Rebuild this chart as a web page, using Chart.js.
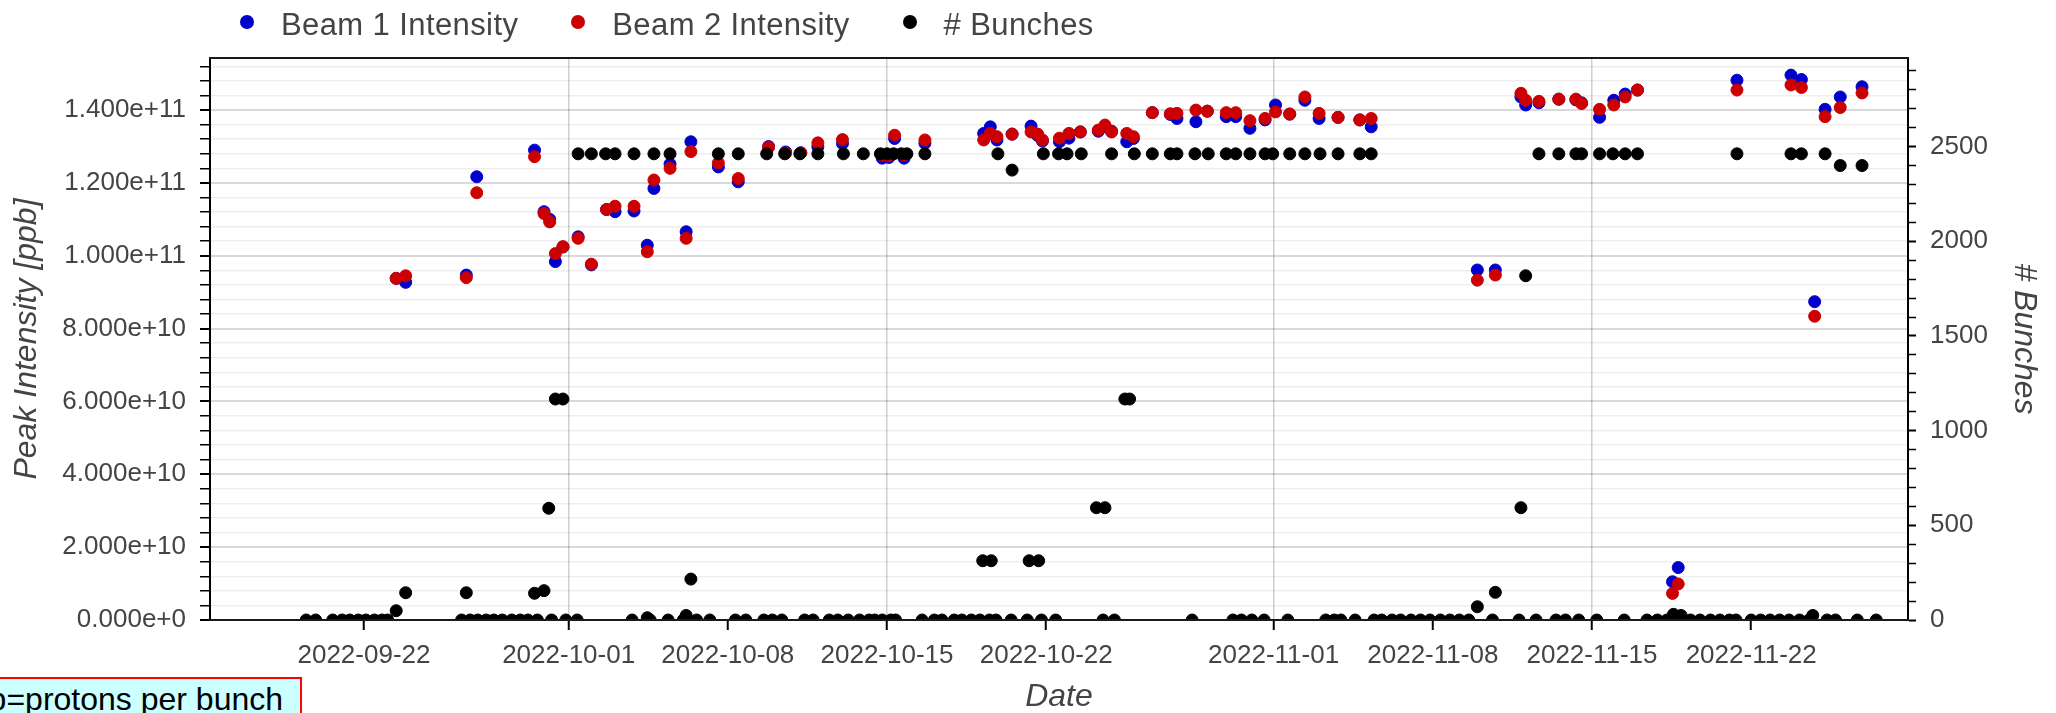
<!DOCTYPE html>
<html>
<head>
<meta charset="utf-8">
<title>Peak intensity and number of bunches</title>
<script src="https://cdn.jsdelivr.net/npm/chart.js@4.4.1/dist/chart.umd.min.js"></script>
<style>
  html, body { margin: 0; padding: 0; background: #fff; }
  body { width: 2056px; height: 713px; overflow: hidden; position: relative; font-family: "Liberation Sans", Arial, sans-serif; }
  #chart { position: absolute; left: 0; top: 0; }
  #legend { position: absolute; left: 240px; top: 10px; height: 30px; display: flex; align-items: center; font-size: 31px; line-height: 30px; letter-spacing: 0.4px; color: #444; }
  #legend .item { display: flex; align-items: center; margin-right: 53px; }
  #legend .dot { width: 14px; height: 14px; border-radius: 50%; margin-right: 27px; position: relative; top: -3px; }
  #note { position: absolute; left: -60px; top: 677px; padding: 2px 17px 12px 11px; background: #ccffff; border: 2px solid #ff0000; font-size: 32px; color: #000; white-space: nowrap; }
</style>
</head>
<body>
<canvas id="chart" width="2056" height="713"></canvas>
<div id="legend"></div>
<div id="note">ppb=protons per bunch</div>
<script>
// all dates are 2022, UTC
const year = 2022;
const xMin = '09-15 05:30';
const xMax = '11-28 21:30';
const xTickLabels = ['2022-09-22', '2022-10-01', '2022-10-08', '2022-10-15', '2022-10-22',
                     '2022-11-01', '2022-11-08', '2022-11-15', '2022-11-22'];
const gridDays = [1, 15];

const yTickLabels = ['0.000e+0', '2.000e+10', '4.000e+10', '6.000e+10', '8.000e+10',
                     '1.000e+11', '1.200e+11', '1.400e+11'];
const yMinorStep = 4e9;
const yMax = 1.543e11;

const y1TickLabels = ['0', '500', '1000', '1500', '2000', '2500'];
const y1MinorStep = 100;
const y1Max = 2968;

// peak intensity per fill [ppb]
const beamTimes = [
  '09-23 10:00', '09-23 20:00', '09-26 12:00', '09-26 23:00', '09-29 12:00', '09-29 22:00', '09-30 04:00', '09-30 10:00', '09-30 18:00', '10-01 10:00',
  '10-02 00:00', '10-02 16:00', '10-03 01:00', '10-03 21:00', '10-04 11:00', '10-04 18:00', '10-05 11:00', '10-06 04:00', '10-06 09:00', '10-07 14:00',
  '10-08 11:00', '10-09 19:00', '10-10 13:00', '10-11 05:00', '10-11 23:00', '10-13 01:00', '10-14 19:00', '10-15 02:00', '10-15 08:00', '10-15 18:00', '10-16 16:00',
  '10-19 06:00', '10-19 13:00', '10-19 20:00', '10-20 12:00', '10-21 08:00', '10-21 15:00', '10-21 20:00', '10-22 14:00', '10-23 00:00', '10-23 12:00',
  '10-24 07:00', '10-24 14:00', '10-24 21:00', '10-25 13:00', '10-25 20:00', '10-26 16:00', '10-27 11:00', '10-27 18:00', '10-28 14:00', '10-29 02:00',
  '10-29 22:00', '10-30 08:00', '10-30 23:00', '10-31 15:00', '11-01 02:00', '11-01 17:00', '11-02 09:00', '11-03 00:00', '11-03 20:00', '11-04 19:00', '11-05 07:00',
  '11-09 23:00', '11-10 18:00', '11-11 21:00', '11-12 02:00', '11-12 16:00', '11-13 13:00', '11-14 07:00', '11-14 13:00', '11-15 08:00', '11-15 23:00', '11-16 11:00', '11-17 00:00',
  '11-18 13:00', '11-18 19:00', '11-21 09:00', '11-23 18:00', '11-24 05:00', '11-24 19:00', '11-25 06:00', '11-25 22:00', '11-26 21:00'
];
const beam1 = [
  9.38e10, 9.27e10, 9.47e10, 1.217e11, 1.290e11, 1.121e11, 1.100e11, 9.84e10, 1.024e11, 1.052e11,
  9.75e10, 1.127e11, 1.121e11, 1.123e11, 1.029e11, 1.185e11, 1.252e11, 1.066e11, 1.313e11, 1.244e11,
  1.203e11, 1.300e11, 1.285e11, 1.283e11, 1.299e11, 1.308e11, 1.268e11, 1.270e11, 1.322e11, 1.268e11, 1.309e11,
  1.336e11, 1.354e11, 1.318e11, 1.334e11, 1.356e11, 1.330e11, 1.315e11, 1.313e11, 1.323e11, 1.340e11,
  1.342e11, 1.355e11, 1.342e11, 1.313e11, 1.322e11, 1.393e11, 1.388e11, 1.377e11, 1.368e11, 1.397e11,
  1.382e11, 1.382e11, 1.350e11, 1.373e11, 1.414e11, 1.389e11, 1.427e11, 1.377e11, 1.380e11, 1.373e11, 1.354e11,
  9.61e10, 9.61e10, 1.436e11, 1.414e11, 1.420e11, 1.430e11, 1.428e11, 1.420e11, 1.380e11, 1.427e11, 1.444e11, 1.455e11,
  1.05e10, 1.44e10, 1.482e11, 1.496e11, 1.484e11, 8.74e10, 1.402e11, 1.436e11, 1.464e11
];
const beam2 = [
  9.38e10, 9.45e10, 9.40e10, 1.173e11, 1.272e11, 1.116e11, 1.093e11, 1.006e11, 1.025e11, 1.048e11,
  9.77e10, 1.127e11, 1.136e11, 1.136e11, 1.011e11, 1.208e11, 1.240e11, 1.048e11, 1.286e11, 1.255e11,
  1.212e11, 1.298e11, 1.282e11, 1.282e11, 1.310e11, 1.319e11, 1.276e11, 1.275e11, 1.331e11, 1.276e11, 1.318e11,
  1.318e11, 1.336e11, 1.327e11, 1.334e11, 1.340e11, 1.334e11, 1.318e11, 1.323e11, 1.336e11, 1.340e11,
  1.345e11, 1.359e11, 1.340e11, 1.336e11, 1.327e11, 1.393e11, 1.390e11, 1.391e11, 1.400e11, 1.397e11,
  1.393e11, 1.393e11, 1.371e11, 1.377e11, 1.395e11, 1.389e11, 1.436e11, 1.391e11, 1.380e11, 1.373e11, 1.377e11,
  9.33e10, 9.47e10, 1.446e11, 1.427e11, 1.424e11, 1.430e11, 1.430e11, 1.418e11, 1.402e11, 1.414e11, 1.436e11, 1.455e11,
  7.3e9, 9.9e9, 1.455e11, 1.469e11, 1.462e11, 8.34e10, 1.382e11, 1.407e11, 1.447e11
];

// number of bunches per fill
const bunchTimes = [
  '09-19 11:00', '09-19 21:00', '09-20 15:00', '09-21 01:00', '09-21 09:00', '09-21 18:00', '09-22 02:00', '09-22 11:00', '09-22 19:00', '09-23 01:00', '09-23 10:00', '09-23 20:00',
  '09-26 07:00', '09-26 12:00', '09-26 16:00', '09-27 00:00', '09-27 09:00', '09-27 17:00', '09-28 02:00', '09-28 12:00', '09-28 21:00', '09-29 05:00', '09-29 12:00', '09-29 15:00',
  '09-29 22:00', '09-30 03:00', '09-30 06:00', '09-30 10:00', '09-30 18:00', '09-30 21:00',
  '10-01 09:00', '10-01 10:00', '10-02 00:00', '10-02 15:00', '10-03 01:00', '10-03 19:00', '10-03 21:00', '10-04 11:00', '10-04 14:00', '10-04 18:00', '10-05 09:00', '10-05 11:00',
  '10-06 01:00', '10-06 04:00', '10-06 09:00', '10-06 15:00', '10-07 05:00', '10-07 14:00',
  '10-08 08:00', '10-08 11:00', '10-08 19:00', '10-09 14:00', '10-09 17:00', '10-09 23:00', '10-10 09:00', '10-10 12:00', '10-11 04:00', '10-11 09:00', '10-11 18:00', '10-11 23:00',
  '10-12 11:00', '10-12 20:00', '10-13 02:00', '10-13 07:00', '10-13 19:00', '10-13 23:00', '10-14 05:00', '10-14 11:00', '10-14 17:00', '10-14 19:00',
  '10-15 00:00', '10-15 04:00', '10-15 07:00', '10-15 09:00', '10-15 15:00', '10-15 21:00', '10-16 13:00', '10-16 16:00', '10-17 02:00', '10-17 10:00', '10-17 23:00', '10-18 07:00',
  '10-18 17:00', '10-19 02:00', '10-19 05:00', '10-19 12:00', '10-19 14:00', '10-19 19:00', '10-19 21:00', '10-20 11:00', '10-20 12:00',
  '10-21 04:00', '10-21 06:00', '10-21 16:00', '10-21 19:00', '10-21 21:00',
  '10-22 10:00', '10-22 13:00', '10-22 22:00', '10-23 13:00', '10-24 05:00', '10-24 12:00', '10-24 14:00', '10-24 21:00', '10-25 00:00', '10-25 11:00', '10-25 16:00', '10-25 21:00',
  '10-26 16:00', '10-27 11:00', '10-27 18:00', '10-28 10:00', '10-28 13:00',
  '10-29 03:00', '10-29 22:00', '10-30 05:00', '10-30 08:00', '10-30 14:00', '10-30 23:00', '10-31 01:00', '10-31 14:00', '10-31 15:00', '10-31 23:00', '11-01 15:00', '11-01 17:00',
  '11-02 09:00', '11-03 01:00', '11-03 07:00', '11-03 16:00', '11-03 20:00', '11-03 23:00', '11-04 14:00', '11-04 19:00',
  '11-05 07:00', '11-05 10:00', '11-05 18:00', '11-06 05:00', '11-06 14:00', '11-07 01:00', '11-07 11:00', '11-07 21:00', '11-08 08:00', '11-08 18:00', '11-09 04:00', '11-09 14:00',
  '11-09 23:00', '11-10 15:00', '11-10 18:00', '11-11 19:00', '11-11 21:00',
  '11-12 02:00', '11-12 13:00', '11-12 16:00', '11-13 10:00', '11-13 13:00', '11-13 20:00', '11-14 07:00', '11-14 10:00', '11-14 13:00', '11-15 05:00', '11-15 08:00', '11-15 22:00',
  '11-16 10:00', '11-16 11:00', '11-17 00:00', '11-17 10:00', '11-17 21:00', '11-18 07:00', '11-18 14:00', '11-18 22:00',
  '11-19 08:00', '11-19 18:00', '11-20 05:00', '11-20 15:00', '11-21 01:00', '11-21 08:00', '11-21 09:00', '11-22 00:00', '11-22 10:00', '11-22 20:00', '11-23 06:00', '11-23 16:00',
  '11-23 18:00', '11-24 03:00', '11-24 05:00', '11-24 13:00', '11-24 17:00', '11-25 06:00', '11-25 08:00', '11-25 17:00', '11-25 22:00',
  '11-26 16:00', '11-26 21:00', '11-27 12:00'
];
const bunches = [
  0, 0, 0, 0, 0, 0, 0, 0, 0, 0, 49, 144,
  0, 144, 0, 0, 0, 0, 0, 0, 0, 0, 141, 0,
  155, 590, 0, 1167, 1167, 0,
  0, 2462, 2462, 2462, 2462, 0, 2462, 12, 0, 2462, 0, 2462,
  0, 24, 216, 0, 0, 2462,
  0, 2462, 0, 0, 2462, 0, 0, 2462, 2462, 0, 0, 2462,
  0, 0, 2462, 0, 0, 2462, 0, 0, 2462, 0,
  2462, 0, 2462, 0, 2462, 2462, 0, 2462, 0, 0, 0, 0,
  0, 0, 313, 0, 313, 0, 2462, 0, 2376,
  0, 313, 313, 0, 2462,
  0, 2462, 2462, 2462, 593, 0, 593, 2462, 0, 1167, 1167, 2462,
  2462, 2462, 2462, 0, 2462,
  2462, 2462, 0, 2462, 0, 2462, 0, 0, 2462, 2462, 0, 2462,
  2462, 2462, 0, 0, 2462, 0, 0, 2462,
  2462, 0, 0, 0, 0, 0, 0, 0, 0, 0, 0, 0,
  70, 0, 146, 0, 593,
  1818, 0, 2462, 0, 2462, 0, 2462, 0, 2462, 0, 2462, 2462,
  0, 2462, 2462, 0, 0, 0, 30, 24,
  0, 0, 0, 0, 0, 0, 2462, 0, 0, 0, 0, 0,
  2462, 0, 2462, 0, 24, 2462, 0, 0, 2400,
  0, 2400, 0
];

const blue = '#0000cc';
const red = '#cc0000';
const black = '#000000';

function toMs(s) {
  const [md, hm] = s.split(' ');
  const [m, d] = md.split('-').map(Number);
  const [h, min] = hm.split(':').map(Number);
  return Date.UTC(year, m - 1, d, h, min);
}

function points(times, values) {
  return times.map((t, i) => ({ x: toMs(t), y: values[i] }));
}

function minorTicks(labels, step, max) {
  const ticks = [];
  const major = labels.map(Number);
  for (let v = 0; v <= max; v += step) {
    ticks.push({ value: v, major: major.includes(v) });
  }
  return ticks;
}

// draws the top edge of the frame and the bottom axis line above the points
const frameLines = {
  id: 'frameLines',
  afterDatasetsDraw(chart) {
    const { ctx, chartArea: a } = chart;
    ctx.save();
    ctx.strokeStyle = '#1a1a1a';
    ctx.lineWidth = 2;
    ctx.beginPath();
    ctx.moveTo(a.left - 1, a.top);
    ctx.lineTo(a.right + 1, a.top);
    ctx.moveTo(a.left - 1, a.bottom);
    ctx.lineTo(a.right + 1, a.bottom);
    ctx.stroke();
    ctx.restore();
  }
};

Chart.defaults.font.family = '"Liberation Sans", Arial, sans-serif';
Chart.defaults.color = '#444';

const titleFont = { size: 32, style: 'italic', lineHeight: 1 };
const tickFont = { size: 26 };

const chart = new Chart(document.getElementById('chart'), {
  type: 'scatter',
  data: {
    datasets: [
      { label: 'Beam 1 Intensity', data: points(beamTimes, beam1), yAxisID: 'y',
        backgroundColor: blue, borderColor: blue, order: 3, clip: 0 },
      { label: 'Beam 2 Intensity', data: points(beamTimes, beam2), yAxisID: 'y',
        backgroundColor: red, borderColor: red, order: 2, clip: 0 },
      { label: '# Bunches', data: points(bunchTimes, bunches), yAxisID: 'y1',
        backgroundColor: black, borderColor: black, order: 1, clip: 0 }
    ]
  },
  options: {
    responsive: false,
    animation: false,
    devicePixelRatio: 1,
    layout: { padding: { top: 58, left: 0, right: 0, bottom: 0 }, autoPadding: false },
    elements: { point: { radius: 6, hoverRadius: 6, borderWidth: 1 } },
    plugins: { legend: { display: false }, tooltip: { enabled: false } },
    scales: {
      x: {
        type: 'linear',
        min: toMs(xMin),
        max: toMs(xMax),
        afterBuildTicks: s => { s.ticks = xTickLabels.map(d => ({ value: Date.parse(d) })); },
        afterFit: s => { s.height = 93; },
        ticks: {
          font: tickFont, padding: 10, maxRotation: 0, autoSkip: false,
          callback: v => new Date(v).toISOString().slice(0, 10)
        },
        grid: {
          color: c => gridDays.includes(new Date(c.tick.value).getUTCDate()) ? '#cfcfcf' : 'rgba(0,0,0,0)',
          lineWidth: 1.5, tickLength: 10, tickColor: '#000', tickWidth: 2
        },
        border: { color: '#000', width: 2 },
        title: { display: true, text: 'Date', font: titleFont, padding: { top: 0, bottom: 0 } }
      },
      y: {
        position: 'left',
        min: 0,
        max: yMax,
        afterBuildTicks: s => { s.ticks = minorTicks(yTickLabels, yMinorStep, yMax); },
        afterFit: s => { s.width = 210; },
        ticks: {
          font: tickFont, padding: 14, autoSkip: false,
          callback: v => {
            const i = yTickLabels.map(Number).indexOf(v);
            return i >= 0 ? yTickLabels[i] : '';
          }
        },
        grid: {
          color: c => c.tick.major ? 'rgba(0,0,0,0.15)' : 'rgba(0,0,0,0.065)',
          lineWidth: c => c.tick.major ? 2 : 1.5,
          tickLength: 10, tickColor: '#000',
          tickWidth: c => c.tick.major ? 2 : 1.5
        },
        border: { color: '#000', width: 2 },
        title: { display: true, text: 'Peak Intensity [ppb]', font: titleFont, padding: { top: 11, bottom: 0 } }
      },
      y1: {
        position: 'right',
        min: 0,
        max: y1Max,
        afterBuildTicks: s => { s.ticks = minorTicks(y1TickLabels, y1MinorStep, y1Max); },
        afterFit: s => { s.width = 148; },
        ticks: {
          font: tickFont, padding: 14, autoSkip: false,
          callback: v => y1TickLabels.includes(String(v)) ? String(v) : ''
        },
        grid: {
          drawOnChartArea: false, tickLength: 8, tickColor: '#000',
          tickWidth: c => c.tick.major ? 2 : 1.5
        },
        border: { color: '#000', width: 2 },
        title: { display: true, text: '# Bunches', font: titleFont, padding: { top: 16, bottom: 0 } }
      }
    }
  },
  plugins: [frameLines]
});

// legend above the frame
const legendEl = document.getElementById('legend');
chart.data.datasets.forEach(ds => {
  const item = document.createElement('div');
  item.className = 'item';
  const dot = document.createElement('span');
  dot.className = 'dot';
  dot.style.background = ds.backgroundColor;
  const text = document.createElement('span');
  text.textContent = ds.label;
  item.append(dot, text);
  legendEl.append(item);
});
</script>
</body>
</html>
